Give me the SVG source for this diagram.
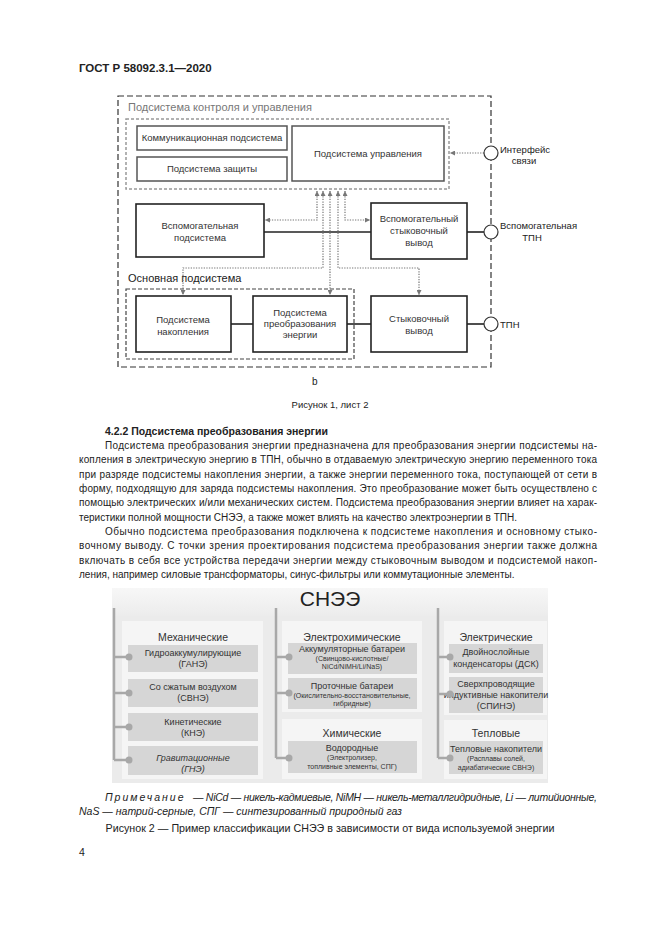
<svg xmlns="http://www.w3.org/2000/svg" width="661" height="935" viewBox="0 0 661 935">
<defs>
<marker id="ar" viewBox="0 0 6 6" refX="6" refY="3" markerWidth="5" markerHeight="5" markerUnits="userSpaceOnUse" orient="auto-start-reverse"><path d="M0,0 L6,3 L0,6 z" fill="#777"/></marker>
<linearGradient id="hdr" x1="0" y1="0" x2="0" y2="1"><stop offset="0" stop-color="#f7f7f7"/><stop offset="1" stop-color="#ececec"/></linearGradient>
</defs>
<style>
text{font-family:"Liberation Sans",Arial,sans-serif;fill:#222}
.body{font-size:10px}
.bold{font-weight:bold}
.lbl{font-size:9.5px;fill:#333;text-anchor:middle}
.ttl{font-size:11px;fill:#777}
.box{fill:#fff;stroke:#222;stroke-width:1.6}
.cbox{fill:#fff;stroke:#555;stroke-width:1.5}
.dot{fill:none;stroke:#777;stroke-width:1.2;stroke-dasharray:1.3 1.3}
.sol{fill:none;stroke:#222;stroke-width:1.6}
.port{fill:#fff;stroke:#333;stroke-width:1.2}
.card{fill:#f5f5f5}
.item{fill:#d6d6d6}
.it{font-size:9px;fill:#333;text-anchor:middle}
.its{font-size:7px;fill:#333;text-anchor:middle}
.ch{font-size:10.5px;fill:#333;text-anchor:middle}
.br{fill:none;stroke:#a8a8a8;stroke-width:2.5}
.bd{fill:#a8a8a8}
.note{font-size:10.5px;font-style:italic}
</style>
<rect width="661" height="935" fill="#fff"/>
<text x="79" y="72" class="bold" font-size="11.5">ГОСТ Р 58092.3.1—2020</text>

<!-- Figure 1 -->
<g id="control-frame">
<rect x="118" y="96" width="373" height="271" fill="none" stroke="#333" stroke-width="1.2" stroke-dasharray="6 3"/>
<text x="128" y="111" class="ttl">Подсистема контроля и управления</text>
<rect x="126" y="119" width="323" height="70" fill="none" stroke="#999" stroke-width="1.5" stroke-dasharray="3 2"/>
</g>
<g id="comm"><rect x="137" y="126" width="150" height="24" class="cbox"/><text x="212" y="141" class="lbl">Коммуникационная подсистема</text></g>
<g id="prot"><rect x="137" y="157" width="150" height="24" class="cbox"/><text x="212" y="172" class="lbl">Подсистема защиты</text></g>
<g id="ctrl"><rect x="292" y="126" width="152" height="55" class="cbox"/><text x="368" y="157" class="lbl">Подсистема управления</text></g>
<g id="main-frame">
<text x="128" y="282" font-size="11" fill="#555">Основная подсистема</text>
<rect x="126" y="289" width="228" height="70" fill="none" stroke="#444" stroke-width="1.2" stroke-dasharray="4 2"/>
</g>
<g id="aux"><rect x="136" y="204" width="128" height="53" class="box"/><text x="200" y="229" class="lbl">Вспомогательная</text><text x="200" y="241" class="lbl">подсистема</text></g>
<g id="auxout"><rect x="371" y="203" width="96" height="56" class="box"/><text x="419" y="222" class="lbl">Вспомогательный</text><text x="419" y="234" class="lbl">стыковочный</text><text x="419" y="246" class="lbl">вывод</text></g>
<g id="stor"><rect x="136" y="296" width="95" height="56" class="box"/><text x="183" y="323" class="lbl">Подсистема</text><text x="183" y="335" class="lbl">накопления</text></g>
<g id="conv"><rect x="253" y="296" width="94" height="56" class="box"/><text x="300" y="316" class="lbl">Подсистема</text><text x="300" y="327" class="lbl">преобразования</text><text x="300" y="338" class="lbl">энергии</text></g>
<g id="dock"><rect x="371" y="296" width="96" height="56" class="box"/><text x="419" y="322" class="lbl">Стыковочный</text><text x="419" y="334" class="lbl">вывод</text></g>

<g id="connectors">
<path class="sol" d="M264,232 H371"/>
<path class="sol" d="M467,232 H484"/>
<path class="sol" d="M231,324 H253"/>
<path class="sol" d="M347,324 H371"/>
<path class="sol" d="M467,324 H484"/>
<path class="dot" d="M317,191 V220 H265" marker-start="url(#ar)" marker-end="url(#ar)"/>
<path class="dot" d="M323,191 V268 H183 V295" marker-start="url(#ar)" marker-end="url(#ar)"/>
<path class="dot" d="M330,191 V295" marker-start="url(#ar)" marker-end="url(#ar)"/>
<path class="dot" d="M338,191 V268 H419 V295" marker-start="url(#ar)" marker-end="url(#ar)"/>
<path class="dot" d="M345,191 V220 H370" marker-start="url(#ar)" marker-end="url(#ar)"/>
<path class="dot" d="M484,153 H450" marker-end="url(#ar)"/>
</g>
<g id="if"><circle cx="491" cy="153" r="7" class="port"/><text x="500" y="153" font-size="9.5" fill="#888">Интерфейс</text><text x="524" y="164" font-size="9.5" fill="#888" text-anchor="middle">связи</text></g>
<g id="auxtpn"><circle cx="491" cy="232" r="7" class="port"/><text x="500" y="229" font-size="9.5" fill="#333">Вспомогательная</text><text x="532" y="241" font-size="9.5" fill="#333" text-anchor="middle">ТПН</text></g>
<g id="tpn"><circle cx="491" cy="324" r="7" class="port"/><text x="500" y="328" font-size="9.5" fill="#333">ТПН</text></g>
<text x="312" y="385" font-size="10">b</text>
<text x="330" y="408" font-size="9.5" text-anchor="middle">Рисунок 1, лист 2</text>

<!-- Body text -->
<text x="105" y="435" class="bold" font-size="10.5">4.2.2 Подсистема преобразования энергии</text>
<g id="body">
<text x="105" y="449" class="body" textLength="492" lengthAdjust="spacing">Подсистема преобразования энергии предназначена для преобразования энергии подсистемы на-</text>
<text x="79" y="463" class="body" textLength="518" lengthAdjust="spacing">копления в электрическую энергию в ТПН, обычно в отдаваемую электрическую энергию переменного тока</text>
<text x="79" y="477.5" class="body" textLength="518" lengthAdjust="spacing">при разряде подсистемы накопления энергии, а также энергии переменного тока, поступающей от сети в</text>
<text x="79" y="492" class="body" textLength="518" lengthAdjust="spacing">форму, подходящую для заряда подсистемы накопления. Это преобразование может быть осуществлено с</text>
<text x="79" y="506" class="body" textLength="518" lengthAdjust="spacing">помощью электрических и/или механических систем. Подсистема преобразования энергии влияет на харак-</text>
<text x="79" y="520.5" class="body">теристики полной мощности СНЭЭ, а также может влиять на качество электроэнергии в ТПН.</text>
<text x="105" y="535" class="body" textLength="492" lengthAdjust="spacing">Обычно подсистема преобразования подключена к подсистеме накопления и основному стыко-</text>
<text x="79" y="549" class="body" textLength="518" lengthAdjust="spacing">вочному выводу. С точки зрения проектирования подсистема преобразования энергии также должна</text>
<text x="79" y="563.5" class="body" textLength="518" lengthAdjust="spacing">включать в себя все устройства передачи энергии между стыковочным выводом и подсистемой накоп-</text>
<text x="79" y="578" class="body">ления, например силовые трансформаторы, синус-фильтры или коммутационные элементы.</text>
</g>

<!-- Figure 2 -->
<g id="snee">
<rect x="112" y="588" width="436" height="195" fill="#ebebeb"/>
<rect x="112" y="588" width="436" height="28" fill="url(#hdr)"/>
<text x="330" y="606" font-size="21" fill="#444" text-anchor="middle">СНЭЭ</text>
</g>
<g id="mech">
<rect x="122" y="621" width="141" height="158" class="card"/>
<text x="193" y="641" class="ch">Механические</text>
<rect x="128" y="645" width="130" height="27" class="item"/><text x="193" y="656" class="it">Гидроаккумулирующие</text><text x="193" y="667" class="it">(ГАНЭ)</text>
<rect x="128" y="679" width="130" height="28" class="item"/><text x="193" y="690" class="it">Со сжатым воздухом</text><text x="193" y="701" class="it">(СВНЭ)</text>
<rect x="128" y="713" width="130" height="28" class="item"/><text x="193" y="725" class="it">Кинетические</text><text x="193" y="736" class="it">(КНЭ)</text>
<rect x="128" y="746" width="130" height="29" class="item"/><text x="193" y="761" class="it" font-size="10.5" font-style="italic">Гравитационные</text><text x="193" y="772" class="it" font-size="10.5" font-style="italic">(ГНЭ)</text>
</g>
<g id="elchem">
<rect x="282" y="621" width="140" height="91" class="card"/>
<text x="352" y="641" class="ch">Электрохимические</text>
<rect x="288" y="643" width="129" height="31" class="item"/><text x="352" y="652" class="it">Аккумуляторные батареи</text><text x="352" y="661" class="its">(Свинцово-кислотные/</text><text x="352" y="669" class="its">NiCd/NiMH/Li/NaS)</text>
<rect x="288" y="678" width="129" height="31" class="item"/><text x="352" y="689" class="it">Проточные батареи</text><text x="352" y="698" class="its">(Окислительно-восстановительные,</text><text x="352" y="706" class="its">гибридные)</text>
</g>
<g id="chem">
<rect x="282" y="719" width="140" height="60" class="card"/>
<text x="352" y="737" class="ch">Химические</text>
<rect x="288" y="741" width="129" height="32" class="item"/><text x="352" y="751" class="it">Водородные</text><text x="352" y="760" class="its">(Электролизер,</text><text x="352" y="769" class="its">топливные элементы, СПГ)</text>
</g>
<g id="elec">
<rect x="444" y="621" width="103" height="94" class="card"/>
<text x="496" y="641" class="ch">Электрические</text>
<rect x="449" y="644" width="94" height="29" class="item"/><text x="496" y="655" class="it">Двойнослойные</text><text x="496" y="667" class="it">конденсаторы (ДСК)</text>
<rect x="449" y="677" width="94" height="36" class="item"/><text x="496" y="687" class="it">Сверхпроводящие</text><text x="496" y="698" class="it" font-size="8.6">индуктивные накопители</text><text x="496" y="709" class="it">(СПИНЭ)</text>
</g>
<g id="therm">
<rect x="444" y="720" width="103" height="59" class="card"/>
<text x="496" y="737" class="ch">Тепловые</text>
<rect x="449" y="741" width="94" height="33" class="item"/><text x="496" y="752" class="it">Тепловые накопители</text><text x="496" y="761" class="its">(Расплавы солей,</text><text x="496" y="770" class="its">адиабатические СВНЭ)</text>
</g>
<g id="brackets">
<path class="br" d="M114,608 V760 M114,657 H128 M114,693 H128 M114,727 H128 M114,760 H128"/>
<circle cx="129" cy="657" r="3.5" class="bd"/><circle cx="129" cy="693" r="3.5" class="bd"/><circle cx="129" cy="727" r="3.5" class="bd"/><circle cx="129" cy="760" r="3.5" class="bd"/>
<path class="br" d="M276,608 V758 M276,657 H288 M276,693 H288 M276,758 H288"/>
<circle cx="289" cy="657" r="3.5" class="bd"/><circle cx="289" cy="693" r="3.5" class="bd"/><circle cx="289" cy="758" r="3.5" class="bd"/>
<path class="br" d="M438,608 V758 M438,657 H449 M438,694 H449 M438,758 H449"/>
<circle cx="450" cy="657" r="3.5" class="bd"/><circle cx="450" cy="694" r="3.5" class="bd"/><circle cx="450" cy="758" r="3.5" class="bd"/>
</g>

<text x="105" y="801" class="note"><tspan letter-spacing="2">Примечание</tspan></text>
<text x="193" y="801" class="note" textLength="404" lengthAdjust="spacing">— NiCd — никель-кадмиевые, NiMH — никель-металлгидридные, Li — литийионные,</text>
<text x="79" y="815" class="note" font-size="11">NaS — натрий-серные, СПГ — синтезированный природный газ</text>
<text x="330" y="832" font-size="10.7" text-anchor="middle">Рисунок 2 — Пример классификации СНЭЭ в зависимости от вида используемой энергии</text>
<text x="79" y="856" font-size="10.5">4</text>
</svg>
